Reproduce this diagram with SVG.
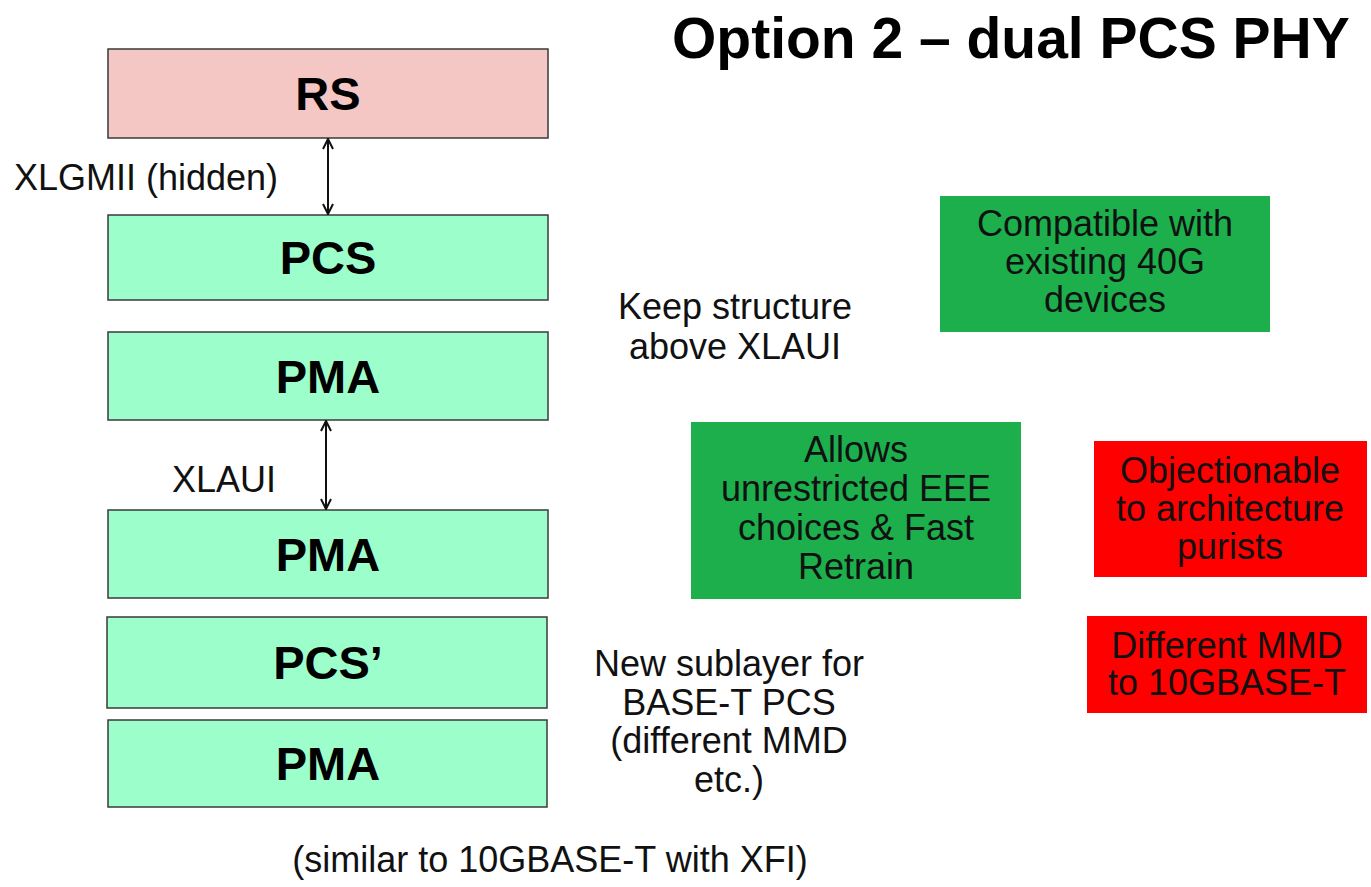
<svg xmlns="http://www.w3.org/2000/svg" width="1371" height="887" viewBox="0 0 1371 887">
  <style>
    .layer { stroke: #3a3a3a; stroke-width: 1.5; }
    .rs { fill: #f4c6c4; }
    .sub { fill: #9cfecb; }
    .pro { fill: #1caf4c; }
    .con { fill: #ff0000; }
    .lbl { font-family: "Liberation Sans", Arial, sans-serif; font-weight: bold; font-size: 47px; fill: #000; text-anchor: middle; }
    .txt { font-family: "Liberation Sans", Arial, sans-serif; font-size: 36px; fill: #111; }
    .mid { text-anchor: middle; }
    .title { font-family: "Liberation Sans", Arial, sans-serif; font-weight: bold; font-size: 57px; fill: #000; }
    .conn { stroke: #111; stroke-width: 2; fill: none; marker-start: url(#head); marker-end: url(#head); }
  </style>
  <defs>
    <marker id="head" viewBox="0 0 12 12" refX="11" refY="6" markerWidth="12" markerHeight="12" markerUnits="userSpaceOnUse" orient="auto-start-reverse">
      <path d="M1,1 L11,6 L1,11" fill="none" stroke="#111" stroke-width="2"/>
    </marker>
  </defs>
  <rect width="1371" height="887" fill="#fff"/>

  <text class="title" x="672" y="58">Option 2 – dual PCS PHY</text>

  <!-- protocol stack -->
  <g id="rs">
    <rect class="layer rs" x="108" y="49" width="440" height="89"/>
    <text class="lbl" x="328" y="110">RS</text>
  </g>
  <g id="pcs">
    <rect class="layer sub" x="108" y="215" width="440" height="85"/>
    <text class="lbl" x="328" y="274">PCS</text>
  </g>
  <g id="pma-upper">
    <rect class="layer sub" x="108" y="332" width="440" height="88"/>
    <text class="lbl" x="328" y="393">PMA</text>
  </g>
  <g id="pma-middle">
    <rect class="layer sub" x="108" y="510" width="440" height="88"/>
    <text class="lbl" x="328" y="571">PMA</text>
  </g>
  <g id="pcs-prime">
    <rect class="layer sub" x="107" y="617" width="440" height="91"/>
    <text class="lbl" x="328" y="679">PCS’</text>
  </g>
  <g id="pma-lower">
    <rect class="layer sub" x="108" y="720" width="439" height="87"/>
    <text class="lbl" x="328" y="780">PMA</text>
  </g>

  <!-- interfaces between layers -->
  <g id="connectors">
    <line class="conn" x1="328" y1="139" x2="328" y2="214"/>
    <line class="conn" x1="326" y1="421" x2="326" y2="509"/>
  </g>
  <text class="txt" x="14" y="190">XLGMII (hidden)</text>
  <text class="txt" x="172" y="492">XLAUI</text>

  <!-- annotations -->
  <text class="txt mid" x="735" y="319">Keep structure</text>
  <text class="txt mid" x="735" y="359">above XLAUI</text>

  <text class="txt mid" x="729" y="676">New sublayer for</text>
  <text class="txt mid" x="729" y="715">BASE-T PCS</text>
  <text class="txt mid" x="729" y="753">(different MMD</text>
  <text class="txt mid" x="729" y="792">etc.)</text>

  <text class="txt mid" x="550" y="872">(similar to 10GBASE-T with XFI)</text>

  <g id="pro-compatible">
    <rect class="pro" x="940" y="196" width="330" height="136"/>
    <text class="txt mid" x="1105" y="236">Compatible with</text>
    <text class="txt mid" x="1105" y="274">existing 40G</text>
    <text class="txt mid" x="1105" y="312">devices</text>
  </g>
  <g id="pro-eee">
    <rect class="pro" x="691" y="422" width="330" height="177"/>
    <text class="txt mid" x="856" y="462">Allows</text>
    <text class="txt mid" x="856" y="501">unrestricted EEE</text>
    <text class="txt mid" x="856" y="540">choices &amp; Fast</text>
    <text class="txt mid" x="856" y="579">Retrain</text>
  </g>
  <g id="con-purists">
    <rect class="con" x="1094" y="441" width="273" height="136"/>
    <text class="txt mid" x="1230" y="483">Objectionable</text>
    <text class="txt mid" x="1230" y="521">to architecture</text>
    <text class="txt mid" x="1230" y="559">purists</text>
  </g>
  <g id="con-mmd">
    <rect class="con" x="1087" y="616" width="280" height="97"/>
    <text class="txt mid" x="1227" y="658">Different MMD</text>
    <text class="txt mid" x="1227" y="695">to 10GBASE-T</text>
  </g>
</svg>
